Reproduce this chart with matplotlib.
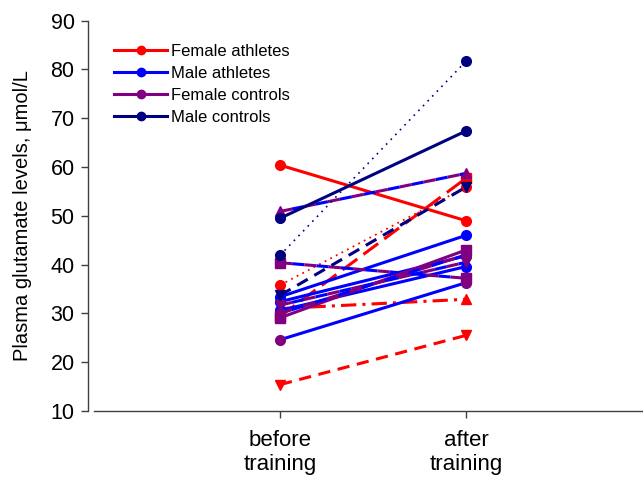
import matplotlib
matplotlib.use("Agg")
import matplotlib.pyplot as plt

plt.rcParams['font.family'] = ['Liberation Sans', 'DejaVu Sans']

# ---- data ----
x_labels = ["before\ntraining", "after\ntraining"]

fa_before = [60.4, 15.4, 31.0, 29.4, 35.8]
fa_after = [49.0, 25.5, 32.9, 57.7, 55.9]

ma_before = [33.4, 32.4, 24.6, 30.6]
ma_after = [46.0, 41.8, 36.3, 39.6]

fc_before = [50.9, 40.4, 29.1, 31.7, 30.0]
fc_after = [58.7, 37.2, 43.0, 40.5, 42.0]

mc_before = [49.5, 41.9, 33.7]
mc_after = [67.4, 81.7, 55.9]

# ---- styles ----
RED, BLUE, PURPLE, NAVY = '#FF0000', '#0000FF', '#800080', '#000080'
fa_ls = ['-', (0, (4, 2.5)), (0, (5, 2, 1, 2)), (0, (6, 2.5)), (0, (1, 2.5))]
fa_lw = [2.2, 2.2, 2.2, 2.2, 1.3]
fa_mk = ['o', 'v', '^', 's', 'o']
ma_mk = ['o', 'o', 'o', 'o']
ma_mkc = [BLUE, BLUE, PURPLE, BLUE]
fc_ls = [(0, (4, 4)), (0, (4, 4)), '-', (0, (4, 4)), (0, (4, 4))]
fc_mk = ['^', 's', 's', 'v', 'o']
mc_ls = ['-', (0, (1, 3)), (0, (4, 2.5))]
mc_lw = [2.2, 1.2, 2.2]
mc_mk = ['o', 'o', 'v']

fig = plt.figure(figsize=(6.43, 4.79), dpi=100)
ax = fig.add_axes([94 / 643, 68 / 479, 558 / 643, 390.3 / 479])
xs = [0, 1]
ms = 7

for b, a, ls, lw, mk in zip(fa_before, fa_after, fa_ls, fa_lw, fa_mk):
    ax.plot(xs, [b, a], color=RED, ls=ls, lw=lw, marker=mk, ms=ms)
for b, a, mk, mc in zip(ma_before, ma_after, ma_mk, ma_mkc):
    ax.plot(xs, [b, a], color=BLUE, ls='-', lw=2.2, marker=mk, ms=ms,
            mfc=mc, mec=mc)
for b, a, ls, mk in zip(fc_before, fc_after, fc_ls, fc_mk):
    ax.plot(xs, [b, a], color=PURPLE, ls=ls, lw=2.2, marker=mk, ms=ms,
            gapcolor=BLUE if ls != '-' else None)
for b, a, ls, lw, mk in zip(mc_before, mc_after, mc_ls, mc_lw, mc_mk):
    ax.plot(xs, [b, a], color=NAVY, ls=ls, lw=lw, marker=mk, ms=ms)

# legend proxies
handles = [
    plt.Line2D([], [], color=RED, lw=2.2, marker='o', ms=6),
    plt.Line2D([], [], color=BLUE, lw=2.2, marker='o', ms=6),
    plt.Line2D([], [], color=PURPLE, lw=2.2, marker='o', ms=6),
    plt.Line2D([], [], color=NAVY, lw=2.2, marker='o', ms=6),
]
ax.legend(handles, ["Female athletes", "Male athletes", "Female controls", "Male controls"],
          loc='upper left', bbox_to_anchor=(0.036, 0.94), frameon=False,
          borderaxespad=0, borderpad=0,
          fontsize=12, handlelength=3.2, handletextpad=0.2, labelspacing=0.42)

ax.set_xlim(-1, 2)
ax.set_ylim(10, 90)
ax.set_yticks(range(10, 91, 10))
ax.set_xticks(xs)
ax.set_xticklabels(x_labels, linespacing=1.15)
ax.tick_params(axis='both', direction='out', length=5, width=1, colors='#404040',
               labelcolor='black', labelsize=15.5)
ax.tick_params(axis='x', pad=9, labelsize=16)
ax.tick_params(axis='y', pad=5)
for s in ['top', 'right']:
    ax.spines[s].set_visible(False)
for s in ['left', 'bottom']:
    ax.spines[s].set_color('#404040')
    ax.spines[s].set_linewidth(1)
ax.spines['left'].set_position(('outward', 4))
ax.set_ylabel("Plasma glutamate levels, \u03bcmol/L", fontsize=14.5, labelpad=13)

fig.savefig("out.png", dpi=100)
